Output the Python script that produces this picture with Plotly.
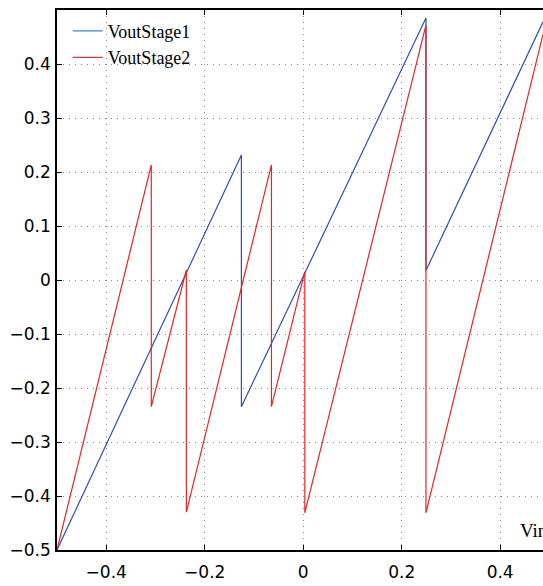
import plotly.graph_objects as go

# Residue curves (vertices of the piecewise-linear traces)
vin_stage1 = [-0.5, -0.1255, -0.1255, 0.2493, 0.2493, 0.487]
vout_stage1 = [-0.5, 0.2315, -0.2346, 0.485, 0.0176, 0.478]

vin_stage2 = [-0.5, -0.3085, -0.3085, -0.2373, -0.2373, -0.0645, -0.0645,
              0.0033, 0.0033, 0.2493, 0.2493, 0.487]
vout_stage2 = [-0.5, 0.213, -0.2346, 0.0185, -0.43, 0.213, -0.2346,
               0.0154, -0.431, 0.472, -0.431, 0.455]

series_names = ["VoutStage1", "VoutStage2"]

x_tick_vals = [-0.4, -0.2, 0, 0.2, 0.4]
x_tick_text = ["\u22120.4", "\u22120.2", "0", "0.2", "0.4"]
y_tick_vals = [-0.5, -0.4, -0.3, -0.2, -0.1, 0, 0.1, 0.2, 0.3, 0.4, 0.5]
y_tick_text = ["\u22120.5", "\u22120.4", "\u22120.3", "\u22120.2", "\u22120.1", "0",
               "0.1", "0.2", "0.3", "0.4", "0.5"]

BLUE = "#3050aa"
RED = "#ee2222"
LEG_BLUE = "#3f86cf"
LEG_RED = "#e8333a"

fig = go.Figure()
fig.add_trace(go.Scatter(x=vin_stage1, y=vout_stage1, mode="lines",
                         line=dict(color=BLUE, width=1.2), showlegend=False))
fig.add_trace(go.Scatter(x=vin_stage2, y=vout_stage2, mode="lines",
                         line=dict(color=RED, width=1.2), showlegend=False))
# legend entries
fig.add_trace(go.Scatter(x=[None], y=[None], mode="lines", name=series_names[0],
                         line=dict(color=LEG_BLUE, width=1.2)))
fig.add_trace(go.Scatter(x=[None], y=[None], mode="lines", name=series_names[1],
                         line=dict(color=LEG_RED, width=1.2)))

axis_common = dict(
    showgrid=True, gridcolor="#8a8a8a", gridwidth=1, griddash="1px,5px",
    zeroline=False, showline=True, linecolor="black", linewidth=1.6,
    ticks="inside", ticklen=5, tickwidth=1, tickcolor="black",
    tickfont=dict(family="DejaVu Sans", size=17, color="black"),
    automargin=False,
)

fig.update_xaxes(range=[-0.5, 0.487], tickvals=x_tick_vals, ticktext=x_tick_text,
                 mirror="ticks", ticklabelstandoff=6, **axis_common)
fig.update_yaxes(range=[-0.5, 0.5], tickvals=y_tick_vals, ticktext=y_tick_text,
                 mirror=False, ticklabelstandoff=1, **axis_common)

PLOT_L, PLOT_R, PLOT_T, PLOT_B = 57, 543, 10, 550
fig.add_annotation(text="Vin", xref="paper", yref="paper",
                   x=(518 - PLOT_L) / (PLOT_R - PLOT_L),
                   y=(PLOT_B - 530) / (PLOT_B - PLOT_T), xanchor="left", yanchor="middle",
                   showarrow=False,
                   font=dict(family="Liberation Serif", size=19, color="black"))

fig.update_layout(
    width=543, height=586,
    margin=dict(l=PLOT_L, r=543 - PLOT_R, t=PLOT_T, b=586 - PLOT_B),
    plot_bgcolor="white", paper_bgcolor="white",
    legend=dict(x=0.022, y=0.995, xanchor="left", yanchor="top",
                bgcolor="rgba(0,0,0,0)", borderwidth=0,
                font=dict(family="Liberation Serif", size=18, color="black"),
                tracegroupgap=0),
)

fig.write_html(
    "out.html",
    config={"displayModeBar": False},
    post_script=("document.body.style.margin='0px';"
                 "document.body.style.overflow='hidden';"
                 "document.documentElement.style.overflow='hidden';"),
)
